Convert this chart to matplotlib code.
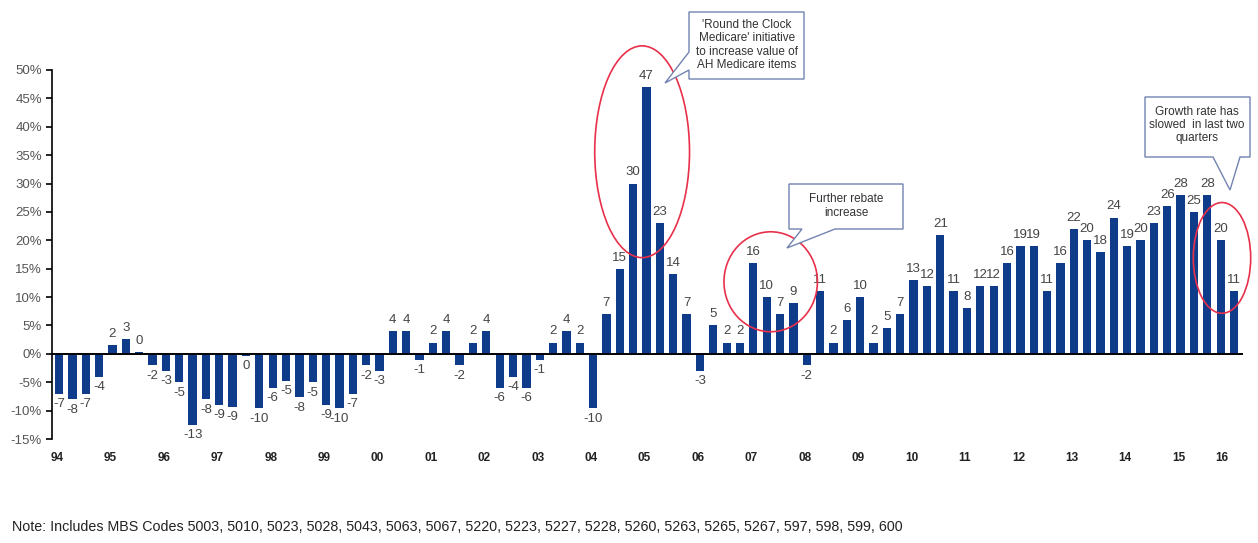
import matplotlib
matplotlib.use('Agg')
import matplotlib.pyplot as plt
from matplotlib.patches import Ellipse, Polygon

plt.rcParams['font.family'] = ['Liberation Sans', 'DejaVu Sans']

# 연도 라벨 (각 연도 1분기 위치)
years = ['94', '95', '96', '97', '98', '99', '00', '01', '02', '03', '04',
         '05', '06', '07', '08', '09', '10', '11', '12', '13', '14', '15', '16']

# 분기별 성장률 (%)
growth = [-7, -8, -7, -4,
          1.5, 2.6, 0.3, -2,
          -3, -5, -12.5, -8,
          -9, -9.3, -0.3, -9.6,
          -6, -4.7, -7.6, -5,
          -9, -9.6, -7, -2,
          -3, 4, 4, -1,
          2, 4, -2, 2,
          4, -6, -4, -6,
          -1, 2, 4, 2,
          -9.6, 7, 15, 30,
          47, 23, 14, 7,
          -3, 5, 2, 2,
          16, 10, 7, 9,
          -2, 11, 2, 6,
          10, 2, 4.5, 7,
          13, 12, 21, 11,
          8, 12, 12, 16,
          19, 19, 11, 16,
          22, 20, 18, 24,
          19, 20, 23, 26,
          28, 25, 28, 20,
          11]

labels = [-7, -8, -7, -4, 2, 3, 0, -2, -3, -5, -13, -8, -9, -9, 0, -10,
          -6, -5, -8, -5, -9, -10, -7, -2, -3, 4, 4, -1, 2, 4, -2, 2,
          4, -6, -4, -6, -1, 2, 4, 2, -10, 7, 15, 30, 47, 23, 14, 7,
          -3, 5, 2, 2, 16, 10, 7, 9, -2, 11, 2, 6, 10, 2, 5, 7,
          13, 12, 21, 11, 8, 12, 12, 16, 19, 19, 11, 16, 22, 20, 18, 24,
          19, 20, 23, 26, 28, 25, 28, 20, 11]

yticks = list(range(-15, 55, 5))

W, H = 1258, 543


def px(x, y):
    # 픽셀 좌표 -> figure 좌표
    return (x / W, 1 - y / H)


fig = plt.figure(figsize=(W / 100, H / 100), dpi=100)
ax = fig.add_axes([0.0411, 0.1915, 0.9462, 0.6796])

idx = list(range(len(growth)))
ax.bar(idx, growth, width=0.62, color='#0e3c8a', zorder=2)

for i, (v, lab) in enumerate(zip(growth, labels)):
    if v >= 0:
        ax.text(i, v + 0.9, str(lab), ha='center', va='bottom', fontsize=9.5, color='#444444')
    else:
        ax.text(i, v - 0.8, str(lab), ha='center', va='top', fontsize=9.5, color='#444444')

ax.set_xlim(-0.55, len(growth) - 0.4)
ax.set_ylim(-15, 50)
ax.set_yticks(yticks)
ax.set_yticklabels([f'{t}%' for t in yticks], fontsize=9.5, color='#555555')
ax.tick_params(axis='y', direction='out', length=4, width=1.2, pad=3)
ax.set_xticks([])
for s in ['top', 'right']:
    ax.spines[s].set_visible(False)
ax.spines['bottom'].set_position(('data', 0))
ax.spines['bottom'].set_linewidth(1.4)
ax.spines['left'].set_linewidth(1.2)

# 연도 라벨
for k, yr in enumerate(years):
    xpos = 4 * k - 0.15 if k < len(years) - 1 else 4 * k - 0.9
    ax.text(xpos, -0.052, yr, transform=ax.get_xaxis_transform(), ha='center', va='center',
            fontsize=8.5, fontweight='bold', color='#222222')

# 빨간 원
ellipses = [(43.67, 35.6, 7.1, 37.3), (53.3, 12.7, 7.0, 17.6), (87.1, 16.9, 4.3, 19.5)]
for cx, cy, w, h in ellipses:
    ax.add_patch(Ellipse((cx, cy), w, h, fill=False, edgecolor='#e8304a', lw=1.2,
                         clip_on=False, zorder=3))

# 말풍선
def callout(points, text, tx, ty, size=8.5):
    poly = Polygon([px(x, y) for x, y in points], closed=True, transform=fig.transFigure,
                   facecolor='white', edgecolor='#7283b0', lw=1.0, zorder=5)
    fig.patches.append(poly)
    fx, fy = px(tx, ty)
    fig.text(fx, fy, text, ha='center', va='center', fontsize=size, color='#333333',
             linespacing=1.15, zorder=6)


callout([(689, 12), (804, 12), (804, 79), (689, 79), (689, 70), (665, 83), (689, 52)],
        "'Round the Clock\nMedicare' initiative\nto increase value of\nAH Medicare items", 747, 45)
callout([(789, 184), (903, 184), (903, 229), (835, 229), (787, 248), (802, 229), (789, 229)],
        'Further rebate\nincrease', 846, 206)
callout([(1145, 97), (1250, 97), (1250, 157), (1240, 157), (1230, 190), (1213, 157), (1145, 157)],
        'Growth rate has\nslowed  in last two\nquarters', 1197, 125)

fig.text(12 / W, 1 - 527 / H,
         'Note: Includes MBS Codes 5003, 5010, 5023, 5028, 5043, 5063, 5067, 5220, 5223, 5227, '
         '5228, 5260, 5263, 5265, 5267, 597, 598, 599, 600',
         ha='left', va='center', fontsize=10.3, color='#222222')

fig.savefig('out.png', dpi=100)
